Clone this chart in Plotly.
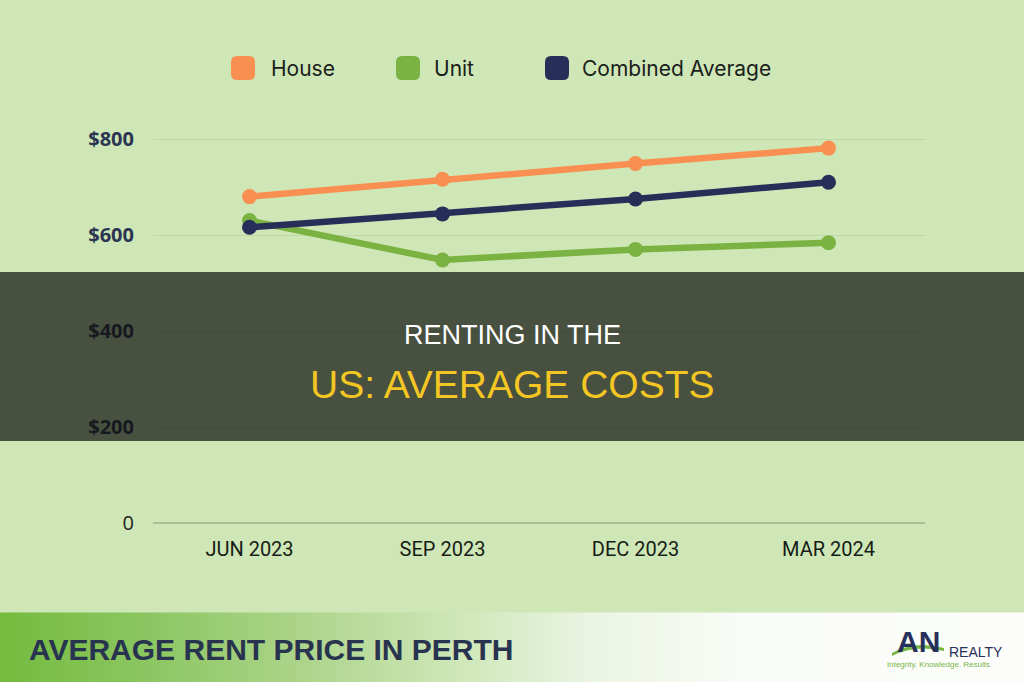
import plotly.graph_objects as go

# ---------------- data ----------------
quarters = ["JUN 2023", "SEP 2023", "DEC 2023", "MAR 2024"]
house = [680, 716, 749, 781]
unit = [630, 548, 570, 584]
combined = [616, 644, 675, 710]

series_names = ["House", "Unit", "Combined Average"]
series_colors = ["#f98f50", "#7bb342", "#272f58"]

y_tickvals = [0, 200, 400, 600, 800]
y_ticktext = ["<span style='color:#1c241c;font-weight:normal'>0</span>",
              "<b>$200</b>", "<b>$400</b>", "<b>$600</b>", "<b>$800</b>"]

title_line1 = "RENTING IN THE"
title_line2 = "US: AVERAGE COSTS"
banner_text = "AVERAGE RENT PRICE IN PERTH"

W, H = 1024, 682
BG = "#cfe7b7"


def px(x):
    return x / W


def py(y):
    return 1 - y / H


fig = go.Figure()
for name, vals, col in zip(series_names, [house, unit, combined], series_colors):
    fig.add_trace(go.Scatter(
        x=quarters, y=vals, name=name, mode="lines+markers",
        line=dict(color=col, width=6.5),
        marker=dict(color=col, size=15),
        showlegend=False, cliponaxis=False,
    ))

shapes = []
annotations = []

# ---- custom legend (rounded squares) ----
legend_sq_x = [231, 396, 545]
legend_txt_x = [269, 432, 580]
legend_y = 68
s = 24
r = 6
for name, col, sx, tx in zip(series_names, series_colors, legend_sq_x, legend_txt_x):
    x0, x1 = sx, sx + s
    y0, y1 = legend_y - s / 2, legend_y + s / 2
    path = (f"M {px(x0 + r)} {py(y0)} L {px(x1 - r)} {py(y0)} "
            f"Q {px(x1)} {py(y0)} {px(x1)} {py(y0 + r)} "
            f"L {px(x1)} {py(y1 - r)} Q {px(x1)} {py(y1)} {px(x1 - r)} {py(y1)} "
            f"L {px(x0 + r)} {py(y1)} Q {px(x0)} {py(y1)} {px(x0)} {py(y1 - r)} "
            f"L {px(x0)} {py(y0 + r)} Q {px(x0)} {py(y0)} {px(x0 + r)} {py(y0)} Z")
    shapes.append(dict(type="path", xref="paper", yref="paper", path=path,
                       fillcolor=col, line=dict(width=0), layer="above"))
    annotations.append(dict(text=name, x=px(tx), y=py(legend_y), xref="paper", yref="paper",
                            xanchor="left", yanchor="middle", showarrow=False,
                            font=dict(family="Inter", size=21, color="#1a201a")))

# ---- dark overlay band ----
shapes.append(dict(type="rect", xref="paper", yref="paper", x0=0, x1=1,
                   y0=py(441), y1=py(272), fillcolor="rgba(14,16,12,0.70)",
                   line=dict(width=0), layer="above"))
annotations.append(dict(text=title_line1, x=0.5, y=py(335), xref="paper", yref="paper",
                        xanchor="center", yanchor="middle", showarrow=False,
                        font=dict(family="Liberation Sans", size=27, color="#ffffff")))
annotations.append(dict(text=title_line2, x=0.5, y=py(384), xref="paper", yref="paper",
                        xanchor="center", yanchor="middle", showarrow=False,
                        font=dict(family="Liberation Sans", size=39, color="#f3c623")))

# ---- bottom banner with horizontal gradient ----
stops = [(0, (116, 187, 62)), (150, (140, 198, 98)), (300, (172, 212, 138)),
         (450, (205, 230, 182)), (600, (236, 245, 229)), (760, (250, 252, 248)),
         (1024, (252, 253, 250))]


def grad(x):
    for (xa, ca), (xb, cb) in zip(stops[:-1], stops[1:]):
        if xa <= x <= xb:
            t = (x - xa) / (xb - xa)
            return tuple(round(a + (b - a) * t) for a, b in zip(ca, cb))
    return stops[-1][1]


step = 8
for x in range(0, W, step):
    c = grad(x + step / 2)
    shapes.append(dict(type="rect", xref="paper", yref="paper",
                       x0=px(x), x1=px(min(x + step + 0.6, W)), y0=0, y1=py(612.5),
                       fillcolor=f"rgb{c}", line=dict(width=0), layer="above"))
annotations.append(dict(text=f"<b>{banner_text}</b>", x=px(27), y=py(649), xref="paper", yref="paper",
                        xanchor="left", yanchor="middle", showarrow=False,
                        font=dict(family="Liberation Sans", size=30, color="#28334f")))

# ---- logo (approximation) ----
annotations.append(dict(text="<b>AN</b>", x=px(918), y=py(641), xref="paper", yref="paper",
                        xanchor="center", yanchor="middle", showarrow=False,
                        font=dict(family="Liberation Sans", size=30, color="#27305a")))
shapes.append(dict(type="path", xref="paper", yref="paper",
                   path=(f"M {px(892)} {py(653)} Q {px(915)} {py(640)} {px(944)} {py(648)} "
                         f"L {px(944)} {py(651)} Q {px(915)} {py(644)} {px(892)} {py(656)} Z"),
                   fillcolor="#7ab648", line=dict(width=0), layer="above"))
annotations.append(dict(text="REALTY", x=px(947), y=py(652), xref="paper", yref="paper",
                        xanchor="left", yanchor="middle", showarrow=False,
                        font=dict(family="Liberation Sans Narrow, Liberation Sans", size=14, color="#27305a")))
annotations.append(dict(text="Integrity. Knowledge. Results", x=px(938), y=py(664), xref="paper", yref="paper",
                        xanchor="center", yanchor="middle", showarrow=False,
                        font=dict(family="Liberation Sans", size=8, color="#7ab648")))

y_lo, y_hi = 0, 850
fig.update_layout(
    width=W, height=H,
    margin=dict(l=0, r=0, t=0, b=0, autoexpand=False),
    paper_bgcolor=BG, plot_bgcolor=BG,
    shapes=shapes, annotations=annotations,
    xaxis=dict(domain=[px(153), px(925)], range=[-0.5, 3.5], showgrid=False,
               showline=False, zeroline=False, ticks="outside", ticklen=8,
               tickcolor="rgba(0,0,0,0)", automargin=False,
               tickfont=dict(family="Roboto", size=20, color="#161c16"), fixedrange=True),
    yaxis=dict(domain=[py(523), py(523 - (y_hi - y_lo) * 0.48)], range=[y_lo, y_hi],
               tickvals=y_tickvals, ticktext=y_ticktext, automargin=False,
               gridcolor="#c0d8a8", gridwidth=1, zeroline=True, zerolinecolor="#a9c096",
               zerolinewidth=1.5, showline=False, ticks="outside", ticklen=14,
               tickcolor="rgba(0,0,0,0)",
               tickfont=dict(family="Open Sans", size=20, color="#2b3550"), fixedrange=True),
)

fig.write_html("out.html")
